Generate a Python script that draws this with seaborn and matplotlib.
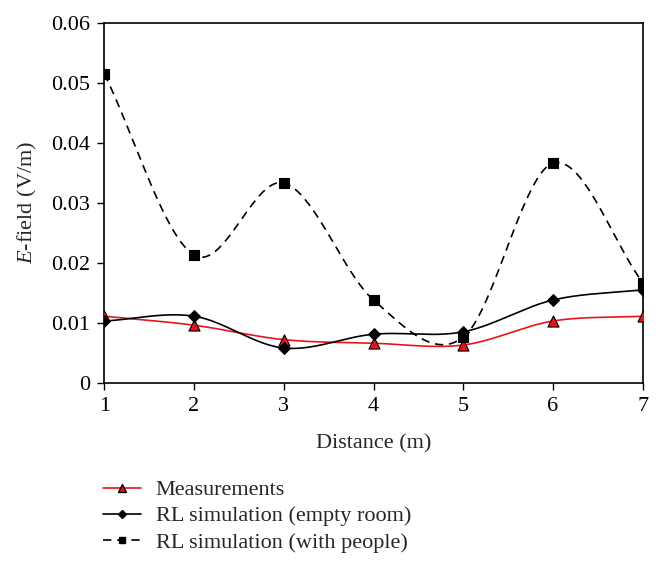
import numpy as np
import pandas as pd
import seaborn as sns
import matplotlib.pyplot as plt
from matplotlib.lines import Line2D

# Wartości
distance = [1, 2, 3, 4, 5, 6, 7]
measurements = [0.0111, 0.0096, 0.0072, 0.0066, 0.0063, 0.0103, 0.0111]
rl_empty = [0.0103, 0.0111, 0.0058, 0.0081, 0.0085, 0.0138, 0.0155]
rl_people = [0.0515, 0.0213, 0.0333, 0.0138, 0.0076, 0.0366, 0.0167]

labels = ["Measurements", "RL simulation (empty room)", "RL simulation (with people)"]


def smooth(x, y, n=40):
    # wygładzenie linii (Catmull-Rom), tak jak "smoothed line" w Excelu
    x = np.asarray(x, float)
    y = np.asarray(y, float)
    px = np.concatenate([[2 * x[0] - x[1]], x, [2 * x[-1] - x[-2]]])
    py = np.concatenate([[2 * y[0] - y[1]], y, [2 * y[-1] - y[-2]]])
    xs, ys = [], []
    t = np.linspace(0, 1, n)
    for i in range(1, len(px) - 2):
        for p, out in ((px, xs), (py, ys)):
            p0, p1, p2, p3 = p[i - 1], p[i], p[i + 1], p[i + 2]
            out.extend(0.5 * ((2 * p1) + (-p0 + p2) * t
                              + (2 * p0 - 5 * p1 + 4 * p2 - p3) * t ** 2
                              + (-p0 + 3 * p1 - 3 * p2 + p3) * t ** 3))
    return np.array(xs), np.array(ys)


sns.set_style("ticks")
plt.rcParams["font.family"] = ["Liberation Serif", "DejaVu Serif"]
plt.rcParams["mathtext.fontset"] = "custom"
plt.rcParams["mathtext.it"] = "Liberation Serif:italic"
plt.rcParams["mathtext.rm"] = "Liberation Serif"

fig = plt.figure(figsize=(6.64, 5.68), dpi=100)
ax = fig.add_axes([0.157, 0.326, 0.811, 0.634])

series = [
    (measurements, "#e8141b", "-", "^", "#e8141b", 8),
    (rl_empty, "black", "-", "D", "black", 6),
    (rl_people, "black", (0, (5, 3.5)), "s", "black", 7),
]

handles = []
for (vals, col, ls, mk, fc, ms), lab in zip(series, labels):
    sx, sy = smooth(distance, vals)
    sns.lineplot(x=sx, y=sy, ax=ax, color=col, linestyle=ls, linewidth=1.2,
                 sort=False, estimator=None, zorder=2)
    df = pd.DataFrame({"distance": distance, "value": vals})
    sns.scatterplot(data=df, x="distance", y="value", ax=ax, marker=mk,
                    s=ms ** 2, color=fc, edgecolor="black", linewidth=0.8,
                    zorder=3)
    handles.append(Line2D([], [], color=col, linestyle=ls, linewidth=1.2,
                          marker=mk, markersize=ms * 0.65, markerfacecolor=fc,
                          markeredgecolor="black", label=lab))

ax.set_xlim(1, 7)
ax.set_ylim(0, 0.06)
ax.set_xticks(distance)
ax.set_yticks([0, 0.01, 0.02, 0.03, 0.04, 0.05, 0.06])
ax.set_yticklabels(["0", "0.01", "0.02", "0.03", "0.04", "0.05", "0.06"])
ax.tick_params(direction="out", length=5, width=1, pad=5, labelsize=16,
               colors="black")
for sp in ax.spines.values():
    sp.set_linewidth(1.2)
    sp.set_color("black")
ax.set_xlabel("Distance (m)", fontsize=16, labelpad=13)
ax.set_ylabel("$\\mathit{E}$-field (V/m)", fontsize=16, labelpad=9)

fig.legend(handles=handles, loc="upper left", bbox_to_anchor=(0.141, 0.171),
           frameon=False, fontsize=16, handlelength=1.75, labelspacing=0.25,
           handletextpad=0.65, borderaxespad=0)

fig.savefig("out.png", dpi=100)
